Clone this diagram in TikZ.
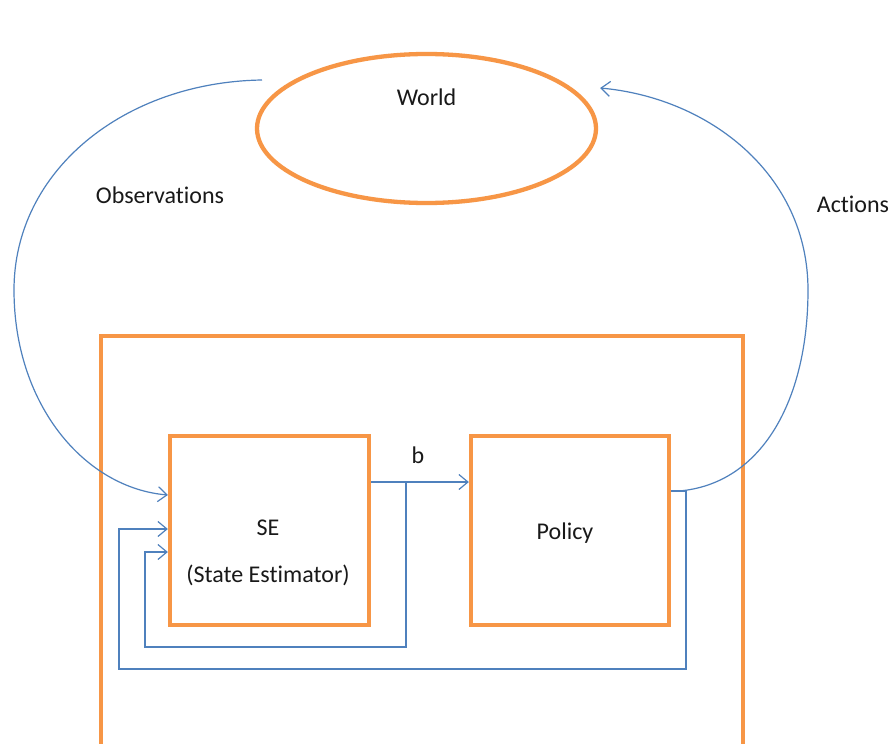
\documentclass[tikz,border=0pt]{standalone}
\usepackage{fontspec}
\setmainfont[Ligatures={NoCommon,NoRare}]{Carlito}
\usetikzlibrary{arrows.meta,shapes.geometric}
\definecolor{frameorange}{HTML}{F79646}
\definecolor{linkblue}{HTML}{4F81BD}
\begin{document}
\begin{tikzpicture}[x=1pt,y=-1pt,
  orangebox/.style={draw=frameorange,line width=4.3pt,rectangle,inner sep=0pt},
  link/.style={draw=linkblue,line width=1.2pt},
  arr/.style={link,-{Straight Barb[length=9pt,width=15pt,line width=1.2pt]}},
  txt/.style={font=\fontsize{24}{29}\selectfont,text=black!90,inner sep=0pt}]
\useasboundingbox (0,0) rectangle (895,744);
\clip (0,0) rectangle (895,744);
\fill[white] (0,0) rectangle (895,744);
% World
\node[draw=frameorange,line width=4.3pt,ellipse,minimum width=339pt,minimum height=149pt,inner sep=0pt,
  label={[txt,yshift=31.5pt]center:World}] (world) at (426.5,128.5) {};
% Agent frame
\node[orangebox,minimum width=642pt,minimum height=440pt] (agent) at (422,556) {};
% SE and Policy
\node[orangebox,minimum width=199pt,minimum height=189pt] (se) at (269.5,530.5) {};
\node[txt] (setitle) at (268,528) {SE};
\node[txt] (sesub) at (268,575) {(State Estimator)};
\node[orangebox,minimum width=198pt,minimum height=189pt] (policy) at (570,530.5) {};
\node[txt] (poltitle) at (565,533) {Policy};
% labels
\node[txt] (obs) at (160,195) {Observations};
\node[txt] (act) at (853,204) {Actions};
\node[txt] (blab) at (418,455) {b};
% b arrow
\draw[arr] ([yshift=48.5pt]se.east) -- ([yshift=48.5pt]policy.west);
\coordinate (bsplit) at (406,482);
\coordinate (loopa1) at (406,647);
\coordinate (loopa2) at (145,647);
\draw[arr] (bsplit) -- (loopa1) -- (loopa2) |- ([yshift=-21.5pt]se.west);
% policy feedback loop
\coordinate (pturn) at (686,491);
\coordinate (loopb1) at (686,669);
\coordinate (loopb2) at (119,669);
\draw[arr] ([yshift=39.5pt]policy.east) -- (pturn) -- (loopb1) -- (loopb2) |- ([yshift=1.5pt]se.west);
% Observations
\coordinate (obsstart) at (262,80);
\coordinate (obsleft) at (14,290);
\draw[arr] (obsstart) .. controls (125,82) and (14,170) .. (obsleft)
  .. controls (14,405) and (85,488) .. ([yshift=35.5pt]se.west);
% Actions
\coordinate (actstart) at (679,491);
\coordinate (actright) at (808,290);
\draw[arr] (actstart) .. controls (762,484) and (808,400) .. (actright)
  .. controls (808,175) and (710,98) .. ([xshift=2pt]world.east |- 0,88);
\end{tikzpicture}
\end{document}
